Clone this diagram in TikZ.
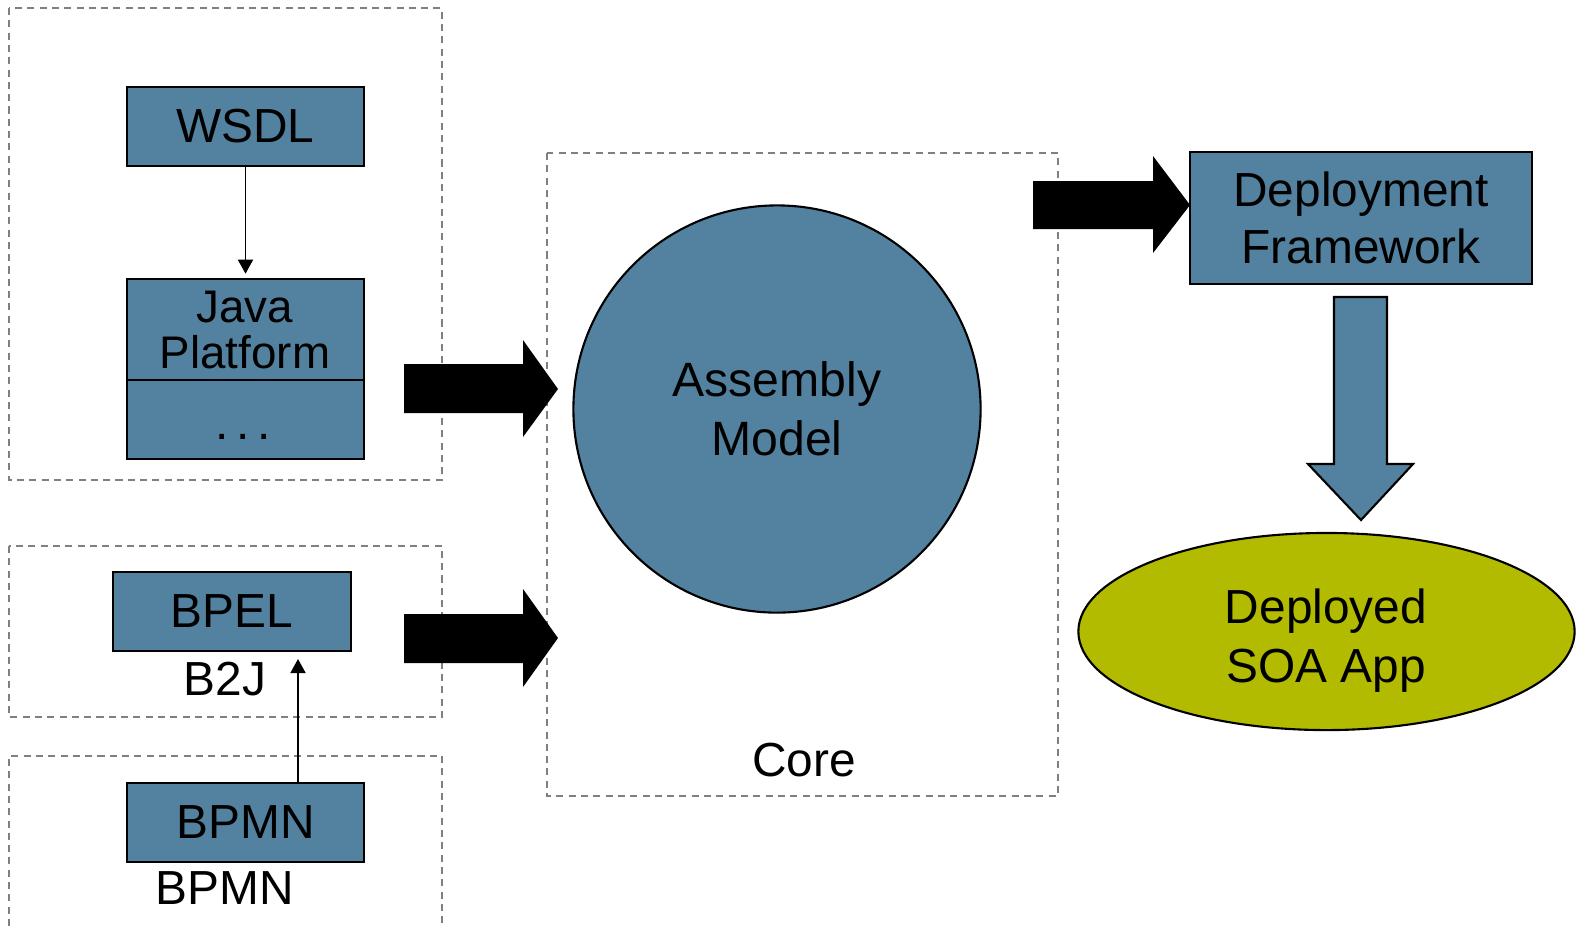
\documentclass[tikz,border=0pt]{standalone}
\usepackage{fontspec}
\setmainfont{Liberation Sans}
\usetikzlibrary{arrows.meta,positioning,shapes.geometric}

\definecolor{boxblue}{RGB}{83,130,160}
\definecolor{appgreen}{RGB}{178,187,0}
\definecolor{dashgray}{RGB}{128,128,128}

\tikzset{
  block/.style={draw, fill=boxblue, line width=0.6pt, inner sep=0pt,
    minimum width=2.37cm, minimum height=0.79cm, font=\fontsize{13.6}{16.4}\selectfont},
  groupbox/.style={draw=dashgray, line width=0.45pt, dash pattern=on 2pt off 1.5pt},
  thinarrow/.style={line width=0.45pt, -{Triangle[length=4pt,width=4.3pt]}},
  lbl/.style={inner sep=0pt, anchor=base, font=\fontsize{13.6}{15}\selectfont}
}

\begin{document}
\begin{tikzpicture}[x=0.01cm, y=-0.01cm]
  \useasboundingbox (0,0) rectangle (1576,926);

  % dashed groups
  \draw[groupbox] (9,8) rectangle (442,480);
  \draw[groupbox] (9,546) rectangle (442,717);
  \draw[groupbox] (9,926) -- (9,756) -- (442,756) -- (442,926);
  \draw[groupbox] (547,153) rectangle (1058,796);

  % left column
  \node[block] (wsdl) at (245.5,126.5) {WSDL};
  \node[block, minimum height=1.80cm] (java) at (245.5,369) {};
  \draw[line width=0.6pt] (java.west |- 0,380) -- (java.east |- 0,380);
  \node[inner sep=0pt, align=center, font=\fontsize{13}{13.3}\selectfont] (javatxt) at (245,330) {Java\\Platform};
  \node[inner sep=0pt, font=\fontsize{13.6}{13.3}\selectfont] (more) at (243,437) {.\,.\,.};
  \draw[thinarrow] (wsdl.south) -- ([yshift=1.2pt]java.north);

  \node[block] (bpel) at (232,611.5) {BPEL};
  \node[lbl] (b2j) at (225,695) {B2J};
  \node[block] (bpmn) at (245.5,822.5) {BPMN};
  \node[lbl] (bpmnlbl) at (225,904) {BPMN};
  \coordinate (b2jtip) at (298,659);
  \draw[thinarrow] (bpmn.north -| b2jtip) -- (b2jtip);

  % core
  \node[circle, draw, fill=boxblue, line width=0.6pt, minimum size=4.07cm, inner sep=0pt,
    align=center, font=\fontsize{13.7}{16.7}\selectfont] (asm) at (777,409) {Assembly\\Model};
  \node[lbl] (core) at (804,776) {Core};

  % right column
  \node[block, minimum width=3.42cm, minimum height=1.32cm, align=center,
    font=\fontsize{13.6}{16.4}\selectfont] (deploy) at (1361,218) {Deployment\\Framework};
  \node[ellipse, draw, fill=appgreen, line width=0.6pt, minimum width=4.96cm, minimum height=1.97cm,
    inner sep=0pt] (app) at (1326.5,631.5) {};
  \node[inner sep=0pt, align=center, font=\fontsize{13.6}{16.8}\selectfont] (apptxt) at (1326,641) {Deployed\\SOA App};

  % block arrows
  \fill (404,364) -- (523,364) -- (523,340) -- (558,389) -- (523,437) -- (523,413) -- (404,413) -- cycle;
  \fill (404,614) -- (523,614) -- (523,589) -- (558,638) -- (523,687) -- (523,663) -- (404,663) -- cycle;
  \fill (1033,181) -- (1153,181) -- (1153,156) -- (1190,205) -- (1153,253) -- (1153,229) -- (1033,229) -- cycle;
  \filldraw[fill=boxblue, line width=0.6pt] (1334,297) -- (1387,297) -- (1387,464) -- (1413,464)
    -- (1361,520) -- (1308,464) -- (1334,464) -- cycle;
\end{tikzpicture}
\end{document}
